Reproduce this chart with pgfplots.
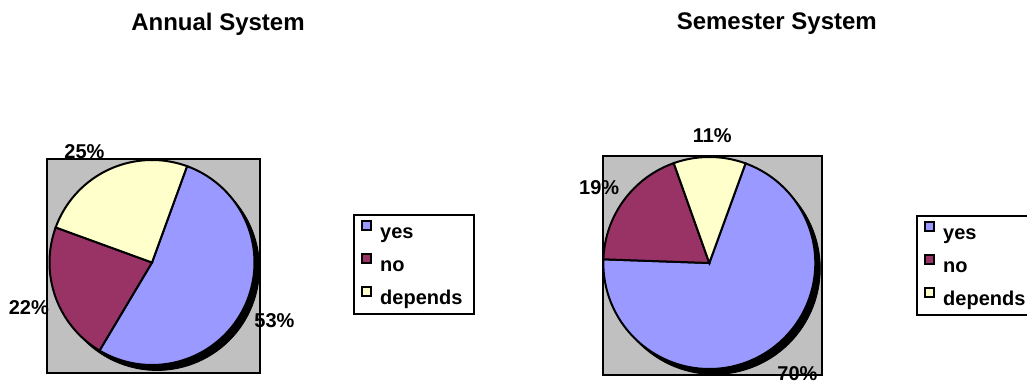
\documentclass[border=0pt]{standalone}
\usepackage{pgfplots}
\pgfplotsset{compat=1.18}
\usepackage{fontspec}
\setmainfont{Liberation Sans}
\definecolor{yescol}{HTML}{9999FF}
\definecolor{nocol}{HTML}{993366}
\definecolor{depcol}{HTML}{FFFFCC}
\definecolor{boxgray}{HTML}{C0C0C0}
% data (percent)
\def\AnnYes{53}\def\AnnNo{22}\def\AnnDep{25}
\def\SemYes{70}\def\SemNo{19}\def\SemDep{11}
\pgfplotsset{
  piebox/.style={
    scale only axis, axis lines=box, xtick=\empty, ytick=\empty,
    axis background/.style={fill=boxgray},
    axis line style={line width=1pt, black},
    clip=false,
    legend cell align=left,
    legend image code/.code={\draw[##1,draw=black,line width=0.9pt] (0pt,0.9pt) rectangle (4.4pt,5.3pt);},
    legend style={draw=black, line width=1pt, font=\bfseries\fontsize{10}{12}\selectfont,
      inner xsep=3.6pt, inner ysep=2pt, row sep=4pt,
      nodes={inner ysep=0pt, text height=9.85pt, text depth=2.65pt},
      /tikz/every odd column/.append style={column sep=2.2pt}},
  },
  wedge/.style={draw=black, line width=1pt, samples=120},
}
\begin{document}
\begin{tikzpicture}
\path[use as bounding box] (0,0) rectangle (513.5pt,190.5pt);
\node[font=\bfseries\fontsize{12}{14}\selectfont] at (109pt,178.5pt) {Annual System};
\node[font=\bfseries\fontsize{12}{14}\selectfont] at (388.4pt,178.5pt) {Semester System};
% ---------- Annual ----------
\begin{axis}[piebox, at={(23.75pt,4.25pt)}, anchor=south west,
  width=106.25pt, height=106.75pt,
  xmin=-104.5, xmax=108, ymin=-110, ymax=103.5,
  legend style={at={(axis cs:201,48.5)}, anchor=north west}]
\addplot[forget plot, fill=black, draw=black, domain=0:360, samples=120] ({5+102.5*cos(x)},{-5.5+102.5*sin(x)});
\addplot[wedge, fill=yescol, domain={70-3.6*\AnnYes}:70] ({102.5*cos(x)},{102.5*sin(x)}) -- (0,0) -- cycle;
\addplot[wedge, fill=nocol, domain={70-3.6*(\AnnYes+\AnnNo)}:{70-3.6*\AnnYes}] ({102.5*cos(x)},{102.5*sin(x)}) -- (0,0) -- cycle;
\addplot[wedge, fill=depcol, domain={70-3.6*(\AnnYes+\AnnNo+\AnnDep)}:{70-3.6*(\AnnYes+\AnnNo)}] ({102.5*cos(x)},{102.5*sin(x)}) -- (0,0) -- cycle;
\legend{yes,no,depends}
\begin{scope}[every node/.style={font=\bfseries\fontsize{10}{12}\selectfont, inner sep=0pt}]
\node at (axis cs:-67.5,111) {25\%};
\node at (axis cs:-123.2,-45) {22\%};
\node at (axis cs:122.5,-58) {53\%};
\end{scope}
\end{axis}
% ---------- Semester ----------
\begin{axis}[piebox, at={(301.35pt,3pt)}, anchor=south west,
  width=109.5pt, height=109.5pt,
  xmin=-106.6, xmax=112.4, ymin=-112, ymax=107,
  legend style={at={(axis cs:206.7,48)}, anchor=north west}]
\addplot[forget plot, fill=black, draw=black, domain=0:360, samples=120] ({5+106*cos(x)},{-5.5+106*sin(x)});
\addplot[wedge, fill=yescol, domain={70-3.6*\SemYes}:70] ({106*cos(x)},{106*sin(x)}) -- (0,0) -- cycle;
\addplot[wedge, fill=nocol, domain={70-3.6*(\SemYes+\SemNo)}:{70-3.6*\SemYes}] ({106*cos(x)},{106*sin(x)}) -- (0,0) -- cycle;
\addplot[wedge, fill=depcol, domain={70-3.6*(\SemYes+\SemNo+\SemDep)}:{70-3.6*(\SemYes+\SemNo)}] ({106*cos(x)},{106*sin(x)}) -- (0,0) -- cycle;
\legend{yes,no,depends}
\begin{scope}[every node/.style={font=\bfseries\fontsize{10}{12}\selectfont, inner sep=0pt}]
\node at (axis cs:3,127.3) {11\%};
\node at (axis cs:-110.1,75.5) {19\%};
\node at (axis cs:88.2,-111) {70\%};
\end{scope}
\end{axis}
\end{tikzpicture}
\end{document}
